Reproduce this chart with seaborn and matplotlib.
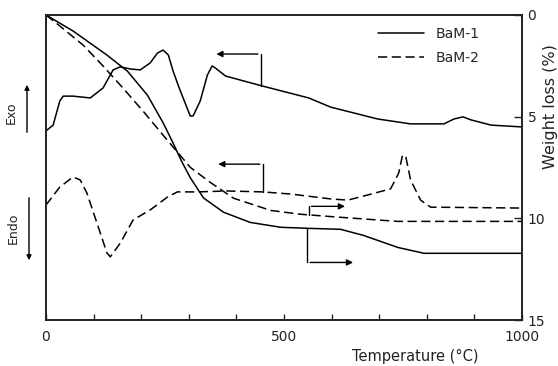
import matplotlib
matplotlib.use("Agg")
import matplotlib.pyplot as plt
from matplotlib.lines import Line2D
import numpy as np
import pandas as pd
import seaborn as sns

# ---------------- data ----------------
# TG curves: weight loss (%) vs temperature (°C)
tg1_temp = [0, 57, 128, 171, 213, 246, 267, 285, 303, 331, 373, 429, 493, 549, 619, 667, 739, 794, 1000]
tg1_loss = [0, 0.79, 1.97, 2.76, 3.94, 5.3, 6.3, 7.2, 8.0, 9.0, 9.70, 10.20, 10.44, 10.49, 10.54, 10.84, 11.43, 11.72, 11.72]

tg2_temp = [0, 29, 78, 120, 162, 204, 246, 303, 345, 394, 472, 535, 619, 739, 1000]
tg2_loss = [0, 0.54, 1.48, 2.51, 3.60, 4.73, 5.91, 7.49, 8.23, 9.01, 9.61, 9.80, 9.95, 10.15, 10.15]

# DTA curves: arbitrary units (exo up)
dta1_temp = [0, 15, 29, 36, 57, 93, 120, 141, 156, 177, 198, 219, 234, 246, 257, 267, 280,
             303, 309, 324, 339, 349, 356, 377, 455, 552, 598, 697, 766, 836, 857, 876, 893, 935, 1000]
dta1_sig = [62.0, 63.9, 71.8, 73.4, 73.4, 72.8, 76.1, 82.0, 83.0, 82.3, 82.0, 84.3, 87.5, 88.5, 86.9, 81.6, 76.0,
            66.9, 66.9, 71.8, 80.3, 83.3, 82.6, 80.0, 76.7, 72.8, 69.8, 65.9, 64.3, 64.3, 65.9, 66.6, 65.6, 63.9, 63.3]

dta2_temp = [0, 29, 57, 72, 86, 107, 128, 135, 156, 183, 219, 255, 276, 318, 381, 455, 514,
             598, 634, 676, 724, 741, 749, 756, 766, 787, 808, 1000]
dta2_sig = [37.7, 43.6, 46.9, 45.9, 41.6, 31.8, 22.0, 20.7, 25.2, 32.8, 36.1, 40.3, 42.0, 42.0, 42.3, 42.0, 41.3,
            39.7, 39.3, 41.0, 43.0, 48.2, 54.1, 53.4, 45.9, 39.3, 37.0, 36.7]

samples = ["BaM-1", "BaM-2"]
x_ticks = [0, 500, 1000]
y_ticks = [0, 5, 10, 15]

tg = pd.concat([
    pd.DataFrame({"T": tg1_temp, "loss": tg1_loss, "sample": samples[0]}),
    pd.DataFrame({"T": tg2_temp, "loss": tg2_loss, "sample": samples[1]}),
])
dta = pd.concat([
    pd.DataFrame({"T": dta1_temp, "sig": dta1_sig, "sample": samples[0]}),
    pd.DataFrame({"T": dta2_temp, "sig": dta2_sig, "sample": samples[1]}),
])

# ---------------- styling ----------------
sns.set_theme(style="white")
plt.rcParams["font.family"] = ["DejaVu Sans"]

W, H = 558, 366
fig = plt.figure(figsize=(W / 100, H / 100), dpi=100)
ax = fig.add_axes([46 / W, 46 / H, 476 / W, 305 / H])
ax2 = ax.twinx()

dashes = {"BaM-1": "", "BaM-2": (6, 3)}
sns.lineplot(data=dta, x="T", y="sig", style="sample", dashes=dashes, color="black",
             linewidth=1.1, estimator=None, legend=False, ax=ax)
sns.lineplot(data=tg, x="T", y="loss", style="sample", dashes=dashes, color="black",
             linewidth=1.1, estimator=None, legend=False, ax=ax2)

ax.set_xlim(0, 1000)
ax.set_ylim(0, 100)
ax2.set_ylim(15, 0)

for a in (ax, ax2):
    for s in a.spines.values():
        s.set_color("#222222")
        s.set_linewidth(1.2)
        s.set_visible(True)

ax.set_yticks([])
ax.set_ylabel("")
ax.set_xticks(x_ticks)
ax.set_xticklabels([str(v) for v in x_ticks])
ax.set_xticks(np.arange(0, 1001, 100), minor=True)
ax.tick_params(axis="x", which="both", direction="in", length=4, width=1,
               colors="#222222", labelsize=10, pad=7, bottom=True)

ax2.set_yticks(y_ticks)
ax2.set_yticklabels([str(v) for v in y_ticks])
ax2.tick_params(axis="y", direction="in", length=6, width=1, colors="#222222",
                labelsize=10, pad=4, right=True)

ax.set_xlabel("Temperature (°C)", fontsize=10.5, color="#222222")
ax.xaxis.set_label_coords(0.775, -0.095)
ax2.set_ylabel("Weight loss (%)", fontsize=11.5, color="#222222")
ax2.yaxis.set_label_coords(1.045, 0.70)

# legend
handles = [Line2D([], [], color="black", lw=1.1),
           Line2D([], [], color="black", lw=1.1, ls=(0, (6, 3)))]
ax2.legend(handles, samples, loc="upper left", bbox_to_anchor=(0.698, 0.962),
           frameon=False, fontsize=10, handlelength=3.3, handletextpad=0.8,
           labelspacing=0.75, borderpad=0, borderaxespad=0)

# bracket arrows pointing each curve to its axis
arrow = dict(arrowstyle="-|>", color="black", lw=1.0, mutation_scale=9)
ax.plot([451, 451], [76.7, 87.2], color="black", lw=1.0)
ax.annotate("", xy=(352, 87.2), xytext=(451, 87.2), arrowprops=arrow)
ax.plot([455, 455], [42.0, 51.1], color="black", lw=1.0)
ax.annotate("", xy=(356, 51.1), xytext=(455, 51.1), arrowprops=arrow)
ax2.plot([549, 549], [10.49, 12.17], color="black", lw=1.0)
ax2.annotate("", xy=(651, 12.17), xytext=(549, 12.17), arrowprops=arrow)
ax2.plot([552, 552], [9.85, 9.41], color="black", lw=1.0)
ax2.annotate("", xy=(634, 9.41), xytext=(552, 9.41), arrowprops=arrow)

# Exo / Endo markers on the left
fig.text(11 / W, (H - 113) / H, "Exo", rotation=90, ha="center", va="center",
         fontsize=9, color="#222222")
fig.text(13 / W, (H - 228) / H, "Endo", rotation=90, ha="center", va="center",
         fontsize=9, color="#222222")
fig.add_artist(matplotlib.patches.FancyArrowPatch((27 / W, (H - 135) / H), (27 / W, (H - 82) / H),
               transform=fig.transFigure, arrowstyle="-|>", mutation_scale=7, color="black", lw=1))
fig.add_artist(matplotlib.patches.FancyArrowPatch((29 / W, (H - 195) / H), (29 / W, (H - 263) / H),
               transform=fig.transFigure, arrowstyle="-|>", mutation_scale=7, color="black", lw=1))

fig.savefig("out.png", dpi=100, facecolor="white")
